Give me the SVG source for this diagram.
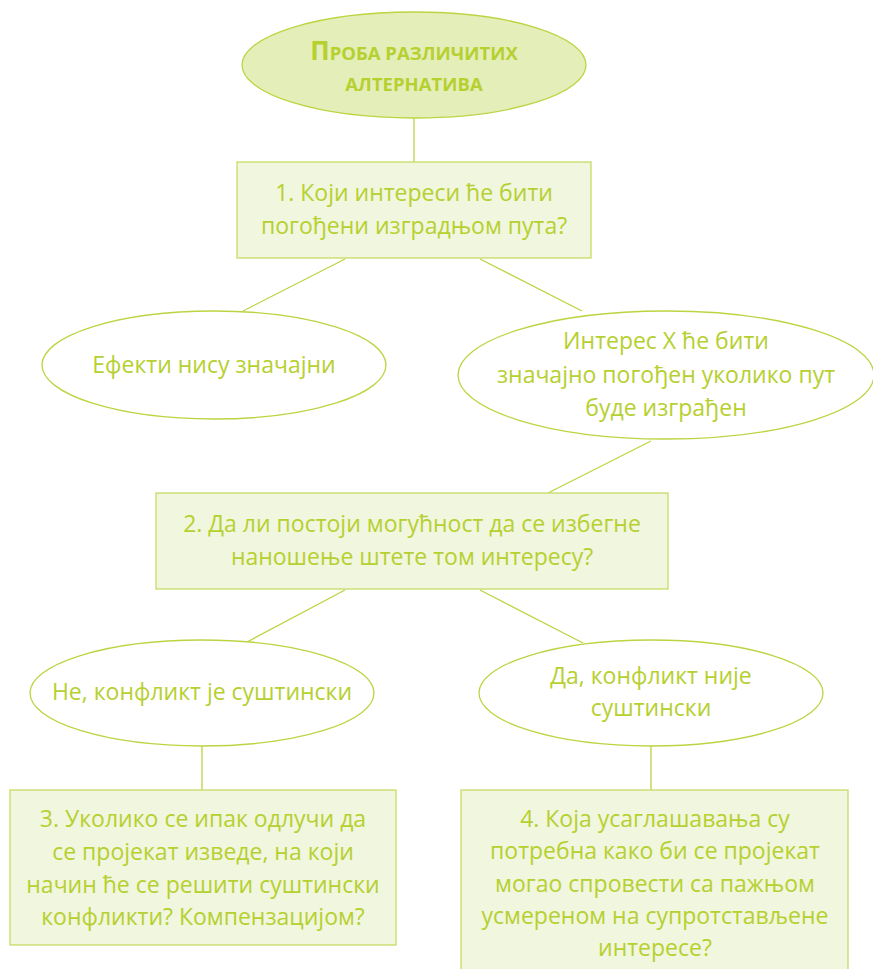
<svg xmlns="http://www.w3.org/2000/svg" width="873" height="969" viewBox="0 0 873 969">
<style>
.bg{fill:#ffffff}
.el{fill:#ffffff;stroke:#bcd442;stroke-width:1.3}
.top{fill:#e4eeb8;stroke:#bcd442;stroke-width:1.3}
.box{fill:#f1f6de;stroke:#c6dc64;stroke-width:1.3}
.ln{stroke:#bcd442;stroke-width:1.3;fill:none}
text{font-family:"Open Sans","Noto Sans",sans-serif;font-size:23px;fill:#b6d030;text-anchor:middle}
.title{font-weight:bold;font-size:18.5px}
.cap{font-size:26px}
</style>
<rect class="bg" x="0" y="0" width="873" height="969"/>
<g id="connectors">
<line class="ln" x1="414" y1="118" x2="414" y2="162"/>
<line class="ln" x1="345" y1="259" x2="243" y2="311"/>
<line class="ln" x1="480" y1="259" x2="582" y2="311"/>
<line class="ln" x1="651" y1="441" x2="548" y2="493"/>
<line class="ln" x1="345" y1="590" x2="245" y2="643"/>
<line class="ln" x1="480" y1="590" x2="583" y2="643"/>
<line class="ln" x1="202" y1="746" x2="202" y2="790"/>
<line class="ln" x1="651" y1="746" x2="651" y2="790"/>
</g>
<g id="n0">
<ellipse class="top" cx="414" cy="65" rx="172" ry="53"/>
<text class="title" x="414" y="60"><tspan class="cap">П</tspan>РОБА РАЗЛИЧИТИХ</text>
<text class="title" x="414" y="91">АЛТЕРНАТИВА</text>
</g>
<g id="n1">
<rect class="box" x="237" y="162" width="354" height="96"/>
<text x="414" y="201">1. Који интереси ће бити</text>
<text x="414" y="234">погођени изградњом пута?</text>
</g>
<g id="n2">
<ellipse class="el" cx="214" cy="365" rx="172" ry="54"/>
<text x="214" y="373">Ефекти нису значајни</text>
</g>
<g id="n3">
<ellipse class="el" cx="666" cy="375" rx="208" ry="64"/>
<text x="666" y="349">Интерес Х ће бити</text>
<text x="666" y="383">значајно погођен уколико пут</text>
<text x="666" y="416">буде изграђен</text>
</g>
<g id="n4">
<rect class="box" x="156" y="493" width="512" height="96"/>
<text x="412" y="532">2. Да ли постоји могућност да се избегне</text>
<text x="412" y="565">наношење штете том интересу?</text>
</g>
<g id="n5">
<ellipse class="el" cx="202" cy="693" rx="172" ry="53"/>
<text x="202" y="700">Не, конфликт је суштински</text>
</g>
<g id="n6">
<ellipse class="el" cx="651" cy="693" rx="172" ry="53"/>
<text x="651" y="684">Да, конфликт није</text>
<text x="651" y="716">суштински</text>
</g>
<g id="n7">
<rect class="box" x="10" y="790" width="386" height="155"/>
<text x="203" y="827">3. Уколико се ипак одлучи да</text>
<text x="203" y="860">се пројекат изведе, на који</text>
<text x="203" y="893">начин ће се решити суштински</text>
<text x="203" y="925">конфликти? Компензацијом?</text>
</g>
<g id="n8">
<rect class="box" x="461" y="790" width="387" height="190"/>
<text x="655" y="827">4. Која усаглашавања су</text>
<text x="655" y="859">потребна како би се пројекат</text>
<text x="655" y="892">могао спровести са пажњом</text>
<text x="655" y="924">усмереном на супротстављене</text>
<text x="655" y="956">интересе?</text>
</g>
</svg>
